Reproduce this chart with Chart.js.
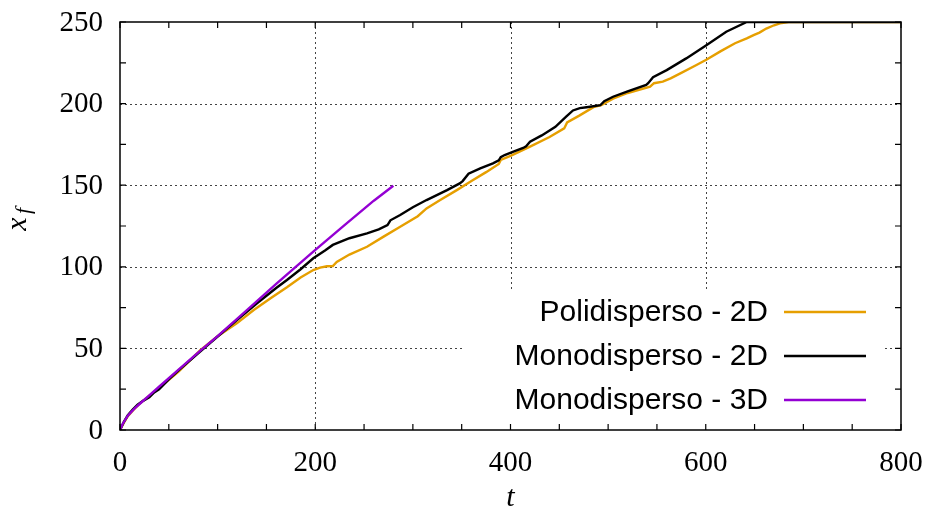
<!DOCTYPE html>
<html>
<head>
<meta charset="utf-8">
<script src="https://cdn.jsdelivr.net/npm/chart.js@4.4.1/dist/chart.umd.min.js"></script>
<style>
  html, body { margin: 0; padding: 0; background: #fff; }
</style>
</head>
<body>
<canvas id="frente" width="928" height="516"></canvas>
<script>
// posición del frente x_f en función del tiempo t
const tPoli = [0,4,8,14,20,30,40,50,60,82,100,120,137,155,171,185,198,205,212,218,222,235,253,270,287,305,314,328,345,360,375,388,390,400,420,440,455,458,470,485,493,505,520,543,547,556,564,574,590,601,615,630,642,649,655,662,670,676,685,700,750,800];
const xfPoli = [0,4.5,8.5,12.5,16,21,25.8,30.8,35.8,48.8,57.5,65.5,73.5,81,87.5,93.5,98,99.5,100.3,100.5,103,107.5,112.3,118.5,124.5,131,135.8,140.9,147,152.6,158,163,165.5,168,173.6,179.5,184.8,188.5,192.5,197.8,199,203,206.5,210.4,212.5,213.5,215.5,218.5,223.5,227,232,237,240,242,243.5,246,248,249.2,250,250,250,250];

const tMono = [0,4,8,13,18,24,30,35,40,50,60,80,100,120,140,160,171,185,198,210,218,235,253,265,274,277,287,300,314,335,348,351,357,369,382,388,390,394,403,413,416,420,432,446,457,464,471,478,492,496,505,520,539,541,546,560,580,601,621,642,700,750,800];
const xfMono = [0,5,9,12.5,15.5,18,20,23,25,31,36.5,47,57.3,67.5,77.5,87,91.9,98.5,105.2,110,113.4,117.5,120.5,123,125.5,128.5,131.7,136.5,140.9,147,151.1,152.5,157,160.3,163.4,165.2,167.2,168.5,170.5,172.8,173.8,176.6,180.5,185.8,192,195.8,197.2,197.8,199,201.5,204.2,207.5,211.4,212.5,216.2,220.5,227.7,235.9,244,250,250,250,250];

const tMono3D = [0,3,8,15,22,30,40,60,82,100,130,160,198,230,260,280];
const xfMono3D = [0,4,8.8,13.2,17,21.2,26.5,37,48.5,57.5,73.5,89.5,109.3,125.5,140.5,149.7];

const xTicks = [0, 200, 400, 600, 800];
const yTicks = [0, 50, 100, 150, 200, 250];
const xMinor = 50;
const yMinor = 25;

const series = [
  { label: 'Polidisperso - 2D', t: tPoli, xf: xfPoli, color: '#e69f00', order: 2 },
  { label: 'Monodisperso - 2D', t: tMono, xf: xfMono, color: '#000000', order: 1 },
  { label: 'Monodisperso - 3D', t: tMono3D, xf: xfMono3D, color: '#9400d3', order: 0 }
];

const serif = '"Liberation Serif", "DejaVu Serif", serif';
const sans = '"Liberation Sans", Arial, sans-serif';

function pts(t, xf) {
  return t.map((v, i) => ({ x: v, y: xf[i] }));
}

// rejilla punteada, caja de leyenda, marco, marcas hacia dentro y rótulos
const marco = {
  id: 'marco',
  beforeDatasetsDraw(chart) {
    const { ctx, chartArea: a, scales: { x, y } } = chart;
    ctx.save();
    ctx.strokeStyle = '#444';
    ctx.lineWidth = 1;
    ctx.setLineDash([2, 3]);
    xTicks.slice(1, -1).forEach(v => {
      const px = Math.round(x.getPixelForValue(v)) + 0.5;
      ctx.beginPath(); ctx.moveTo(px, a.top); ctx.lineTo(px, a.bottom); ctx.stroke();
    });
    yTicks.slice(1, -1).forEach(v => {
      const py = Math.round(y.getPixelForValue(v)) + 0.5;
      ctx.beginPath(); ctx.moveTo(a.left, py); ctx.lineTo(a.right, py); ctx.stroke();
    });
    ctx.restore();
  },
  afterDatasetsDraw(chart) {
    const { ctx, chartArea: a, scales: { x, y } } = chart;
    ctx.save();

    // leyenda
    const boxL = 465, boxR = a.right - 18, boxT = 290;
    ctx.fillStyle = '#fff';
    ctx.fillRect(boxL, boxT, boxR - boxL, a.bottom - boxT - 1);
    ctx.font = '30px ' + sans;
    ctx.textAlign = 'right';
    ctx.textBaseline = 'middle';
    series.forEach((s, i) => {
      const ry = 312 + i * 44;
      ctx.fillStyle = '#000';
      ctx.fillText(s.label, 768, ry + 1);
      ctx.strokeStyle = s.color;
      ctx.lineWidth = 2.5;
      ctx.beginPath(); ctx.moveTo(784, ry); ctx.lineTo(866, ry); ctx.stroke();
    });

    // marco
    ctx.strokeStyle = '#000';
    ctx.lineWidth = 1.5;
    ctx.strokeRect(a.left, a.top, a.right - a.left, a.bottom - a.top);

    // marcas
    ctx.lineWidth = 1.2;
    const tl = 6;
    ctx.beginPath();
    for (let v = x.min; v <= x.max; v += xMinor) {
      const px = x.getPixelForValue(v);
      ctx.moveTo(px, a.bottom); ctx.lineTo(px, a.bottom - tl);
      ctx.moveTo(px, a.top); ctx.lineTo(px, a.top + tl);
    }
    for (let v = y.min; v <= y.max; v += yMinor) {
      const py = y.getPixelForValue(v);
      ctx.moveTo(a.left, py); ctx.lineTo(a.left + tl, py);
      ctx.moveTo(a.right, py); ctx.lineTo(a.right - tl, py);
    }
    ctx.stroke();

    // rótulos de las marcas
    ctx.fillStyle = '#000';
    ctx.font = '29px ' + serif;
    ctx.textBaseline = 'middle';
    ctx.textAlign = 'right';
    yTicks.forEach(v => ctx.fillText(String(v), a.left - 17, y.getPixelForValue(v) + 1));
    ctx.textAlign = 'center';
    xTicks.forEach(v => ctx.fillText(String(v), x.getPixelForValue(v), a.bottom + 33));

    // títulos de ejes
    ctx.font = 'italic 30px ' + serif;
    ctx.fillText('t', (a.left + a.right) / 2, 498);

    ctx.translate(18, 224);
    ctx.rotate(-Math.PI / 2);
    ctx.fillText('x', 0, 0);
    ctx.font = 'italic 22px ' + serif;
    ctx.fillText('f', 13, 6);
    ctx.restore();
  }
};

new Chart(document.getElementById('frente'), {
  type: 'line',
  data: {
    datasets: series.map(s => ({
      label: s.label,
      data: pts(s.t, s.xf),
      borderColor: s.color,
      borderWidth: 2.4,
      pointRadius: 0,
      tension: 0,
      fill: false,
      order: s.order
    }))
  },
  options: {
    responsive: false,
    animation: false,
    devicePixelRatio: 1,
    layout: { padding: { top: 22, right: 27, left: 0, bottom: 0 } },
    plugins: { legend: { display: false }, tooltip: { enabled: false } },
    scales: {
      x: {
        type: 'linear',
        min: 0,
        max: 800,
        afterBuildTicks: s => { s.ticks = xTicks.map(v => ({ value: v })); },
        afterFit: s => { s.height = 86; },
        grid: { display: false },
        border: { display: false },
        ticks: { display: false }
      },
      y: {
        type: 'linear',
        min: 0,
        max: 250,
        afterBuildTicks: s => { s.ticks = yTicks.map(v => ({ value: v })); },
        afterFit: s => { s.width = 120; },
        grid: { display: false },
        border: { display: false },
        ticks: { display: false }
      }
    }
  },
  plugins: [marco]
});
</script>
</body>
</html>
